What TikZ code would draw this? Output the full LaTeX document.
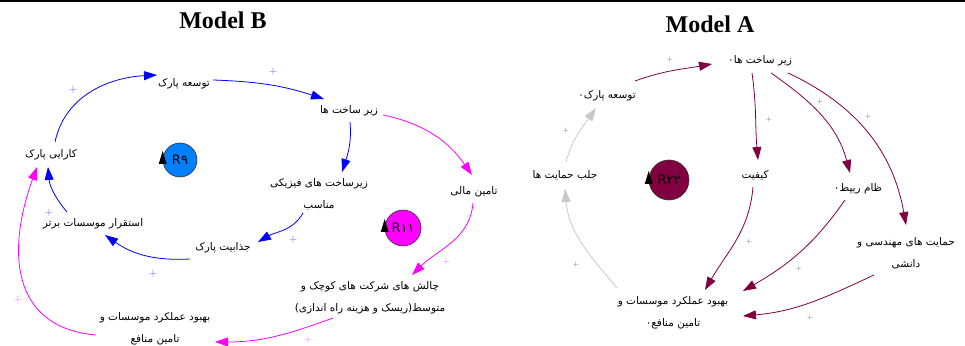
\documentclass[tikz,border=0pt]{standalone}
\usepackage{fontspec}
\setmainfont{Liberation Serif}
\newfontfamily\arabicfont[Script=Arabic]{DejaVu Sans}
\TeXXeTstate=1
\usetikzlibrary{arrows.meta}
\definecolor{bblue}{RGB}{0,0,255}
\definecolor{bmag}{RGB}{255,0,255}
\definecolor{amar}{RGB}{128,0,64}
\definecolor{agray}{RGB}{200,200,200}
\definecolor{rblue}{RGB}{0,128,255}
\definecolor{pblue}{RGB}{80,80,255}
\definecolor{pmag}{RGB}{255,100,255}
\definecolor{pgray}{RGB}{90,90,90}
\newcommand\fatext[1]{\beginR #1\endR}
\tikzset{
  lbl/.style={font=\arabicfont\fontsize{10.5}{22}\selectfont, align=center, inner sep=0pt},
  ttl/.style={font=\bfseries\fontsize{24}{26}\selectfont, inner sep=0pt},
  conn/.style={line width=0.8pt, -{Triangle[length=13pt,width=9pt]}},
  plb/.style={text=pblue, font=\sffamily\fontsize{11}{11}\selectfont, inner sep=0pt},
  plm/.style={text=pmag, font=\sffamily\fontsize{11}{11}\selectfont, inner sep=0pt},
  pla/.style={text=pgray, font=\sffamily\fontsize{7.5}{8}\selectfont, inner sep=0pt},
  loopc/.style={circle, draw=black!80, line width=0.6pt, minimum size=#1, inner sep=0pt, font=\arabicfont\fontsize{13}{14}\selectfont},
}
\begin{document}
\begin{tikzpicture}[x=1pt,y=1pt]
\useasboundingbox (0,0) rectangle (965,345);
\fill[black] (0,343) rectangle (965,345);
% ---------------- Model B ----------------
\node[ttl] (titleB) at (223,325) {Model B};
\node[lbl] (tpB) at (184,261) {\fatext{توسعه پارک}};
\node[lbl] (zsB) at (349,234) {\fatext{زیر ساخت ها}};
\node[lbl] (kpB) at (51,190) {\fatext{کارایی پارک}};
\node[lbl] (zfB) at (319,151) {\fatext{زیرساخت های فیزیکی}\\\fatext{مناسب}};
\node[lbl] (tmB) at (474,153) {\fatext{تامین مالی}};
\node[lbl] (esB) at (93,121) {\fatext{استقرار موسسات برتر}};
\node[lbl] (jpB) at (223,97) {\fatext{جذابیت پارک}};
\node[lbl] (chB) at (370,47) {\fatext{چالش های شرکت های کوچک و}\\\fatext{متوسط(ریسک و هزینه راه اندازی)}};
\node[lbl] (bbB) at (155,16) {\fatext{بهبود عملکرد موسسات و}\\\fatext{تامین منافع}};
\node[loopc=34pt, fill=rblue] (r9) at (180,185) {R\fatext{۹}};
\node[loopc=36pt, fill=bmag] (r11) at (403,117) {R\fatext{۱۱}};
\fill[black] ([shift={(-4,-4)}]r9.west) -- ([shift={(4,-4)}]r9.west) -- ([shift={(0,9)}]r9.west) -- cycle;
\fill[black] ([shift={(-4,-4)}]r11.west) -- ([shift={(4,-4)}]r11.west) -- ([shift={(0,9)}]r11.west) -- cycle;
% blue connectors
\draw[conn, bblue] ([shift={(4,13)}]kpB.center) to[out=78,in=183] ([shift={(-27,9)}]tpB.center);
\draw[conn, bblue] ([shift={(29,4)}]tpB.center) to[out=-2,in=162] ([shift={(-25,12)}]zsB.center);
\draw[conn, bblue] ([shift={(1,-11)}]zsB.center) to[out=-85,in=72] ([shift={(23,22)}]zfB.center);
\draw[conn, bblue] ([shift={(-16,-19)}]zfB.center) to[out=-120,in=30] ([shift={(35,6)}]jpB.center);
\draw[conn, bblue] ([shift={(-33,-11)}]jpB.center) to[out=183,in=-35] ([shift={(12,-11)}]esB.center);
\draw[conn, bblue] ([shift={(-26,12)}]esB.center) to[out=130,in=-85] ([shift={(-3,-12)}]kpB.center);
% magenta connectors
\draw[conn, bmag] ([shift={(34,-4)}]zsB.center) to[out=-12,in=125] ([shift={(-2,17)}]tmB.center);
\draw[conn, bmag] ([shift={(-1,-11)}]tmB.center) to[out=-95,in=45] ([shift={(42,23)}]chB.center);
\draw[conn, bmag] ([shift={(-37,-20)}]chB.center) to[out=200,in=0] ([shift={(60,-13)}]bbB.center);
\draw[conn, bmag] ([shift={(-59,-6)}]bbB.center) to[out=175,in=250,looseness=1.25] ([shift={(-14,-12)}]kpB.center);
% pluses B
\node[plb] (pb1) at (73,255) {+};
\node[plb] (pb2) at (273,273) {+};
\node[plb] (pb3) at (293,105) {+};
\node[plb] (pb4) at (153,71) {+};
\node[plb] (pb5) at (49,132) {+};
\node[plm] (pb6) at (446,83) {+};
\node[plm] (pb7) at (308,5) {+};
\node[plm] (pb8) at (18,45) {+};
% ---------------- Model A ----------------
\node[ttl] (titleA) at (710,321) {Model A};
\node[lbl] (zsA) at (760,284) {\fatext{زیر ساخت ها۰}};
\node[lbl] (tpA) at (607,249) {\fatext{توسعه پارک۰}};
\node[lbl] (jhA) at (565,170) {\fatext{جلب حمایت ها}};
\node[lbl] (kfA) at (755,170) {\fatext{کیفیت}};
\node[lbl] (nrA) at (858,156) {\fatext{ظام ریپط۰}};
\node[lbl] (hmA) at (906,92) {\fatext{حمایت های مهندسی و}\\\fatext{دانشی}};
\node[lbl] (bbA) at (673,32) {\fatext{بهبود عملکرد موسسات و}\\\fatext{تامین منافع۰}};
\node[loopc=40pt, fill=amar] (r22) at (669,165) {R\fatext{۲۲}};
\fill[black] ([shift={(-4,-4)}]r22.west) -- ([shift={(4,-4)}]r22.west) -- ([shift={(0,9)}]r22.west) -- cycle;
\draw[conn, amar] ([shift={(28,15)}]tpA.center) to[out=20,in=190] ([shift={(-48,-3)}]zsA.center);
\draw[conn, amar] ([shift={(-8,-12)}]zsA.center) to[out=-82,in=95] ([shift={(3,15)}]kfA.center);
\draw[conn, amar] ([shift={(11,-12)}]zsA.center) to[out=-35,in=105] ([shift={(-8,16)}]nrA.center);
\draw[conn, amar] ([shift={(28,-12)}]zsA.center) to[out=-25,in=100] ([shift={(0,28)}]hmA.center);
\draw[conn, amar] ([shift={(-2,-12)}]kfA.center) to[out=-95,in=60] ([shift={(32,23)}]bbA.center);
\draw[conn, amar] ([shift={(-13,-11)}]nrA.center) to[out=-125,in=30] ([shift={(70,22)}]bbA.center);
\draw[conn, amar] ([shift={(-32,-22)}]hmA.center) to[out=-155,in=5] ([shift={(70,-3)}]bbA.center);
\draw[conn, agray] ([shift={(-56,25)}]bbA.center) to[out=130,in=-85] ([shift={(0,-14)}]jhA.center);
\draw[conn, agray] ([shift={(1,13)}]jhA.center) to[out=75,in=235] ([shift={(-11,-12)}]tpA.center);
% pluses A
\node[pla] (pa1) at (670,285) {+};
\node[pla] (pa2) at (769,225) {+};
\node[pla] (pa3) at (820,243) {+};
\node[pla] (pa4) at (868,228) {+};
\node[pla] (pa5) at (566,214) {+};
\node[pla] (pa6) at (749,103) {+};
\node[pla] (pa7) at (799,76) {+};
\node[pla] (pa8) at (810,27) {+};
\node[pla] (pa9) at (576,80) {+};
\end{tikzpicture}
\end{document}
